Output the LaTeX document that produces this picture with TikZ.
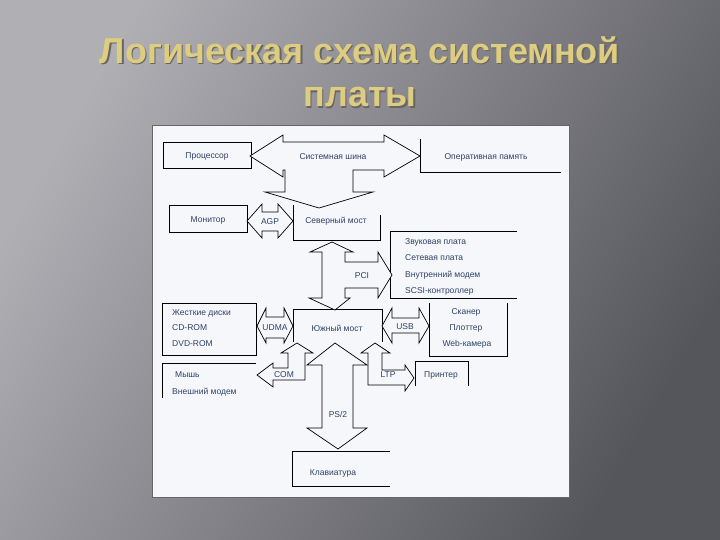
\documentclass[tikz,border=0pt]{standalone}
\usepackage{fontspec}
\setmainfont{Liberation Sans}
\definecolor{txt}{RGB}{45,65,100}
\definecolor{ttl}{RGB}{222,204,128}
\definecolor{panel}{RGB}{246,247,251}
\definecolor{bgl}{RGB}{175,175,180}
\definecolor{bgr}{RGB}{85,85,92}
\begin{document}
\begin{tikzpicture}[x=1pt,y=-1pt,
  lbl/.style={font=\fontsize{8.5}{9}\selectfont, text=txt, inner sep=0pt},
  ttlst/.style={font=\bfseries\fontsize{36}{40}\selectfont, inner sep=0pt},
  ln/.style={draw=black, line width=0.8pt},
  arr/.style={draw=black, line width=0.7pt, fill=panel, line join=miter}]
\useasboundingbox (0,0) rectangle (720,540);
\shade[left color=bgl, right color=bgr, shading angle=60] (0,0) rectangle (720,540);
\node[ttlst, text=black!60] at (361.5,51.5) {Логическая схема системной};
\node[ttlst, text=black!60] at (361.5,98.5) {платы};
\node[ttlst, text=ttl] (t1) at (360,50) {Логическая схема системной};
\node[ttlst, text=ttl] (t2) at (360,97) {платы};
\fill[panel, draw=black!60] (152,125) rectangle (569,497);
% boxes
\draw[ln] (163,142) rectangle (251,168);
\node[lbl] (cpu) at (207,156) {Процессор};
\draw[ln] (420,139) -- (420,172) -- (561,172);
\node[lbl] (ram) at (486,157) {Оперативная память};
\draw[ln] (169,205) rectangle (247,232);
\node[lbl] (mon) at (208,220) {Монитор};
\draw[ln] (293,205) -- (293,240) -- (380,240) -- (380,215);
\node[lbl] (nb) at (336,221) {Северный мост};
\draw[ln] (517,231) -- (390,231) -- (390,298) -- (517,298);
\node[lbl,anchor=west] (p1) at (405,242) {Звуковая плата};
\node[lbl,anchor=west] (p2) at (405,258) {Сетевая плата};
\node[lbl,anchor=west] (p3) at (405,275) {Внутренний модем};
\node[lbl,anchor=west] (p4) at (405,291) {SCSI-контроллер};
\draw[ln] (162,303) rectangle (256,355);
\node[lbl,anchor=west] (h1) at (172,313) {Жесткие диски};
\node[lbl,anchor=west] (h2) at (172,328) {CD-ROM};
\node[lbl,anchor=west] (h3) at (172,344) {DVD-ROM};
\draw[ln] (293,342) -- (293,309) -- (382,309) -- (382,342);
\node[lbl] (sb) at (337,328) {Южный мост};
\draw[ln] (429,303) -- (429,356) -- (507,356) -- (507,303);
\node[lbl] (s1) at (466,312) {Сканер};
\node[lbl] (s2) at (466,328) {Плоттер};
\node[lbl] (s3) at (467,344) {Web-камера};
\draw[ln] (162,398) -- (162,363) -- (256,363);
\node[lbl,anchor=west] (m1) at (175,375) {Мышь};
\node[lbl,anchor=west] (m2) at (172,392) {Внешний модем};
\draw[ln] (415,386) -- (415,361) -- (468,361) -- (468,386);
\node[lbl] (pr) at (441,375) {Принтер};
\draw[ln] (390,451) -- (292,451) -- (292,486) -- (390,486);
\node[lbl] (kb) at (333,473) {Клавиатура};
% block arrows
\draw[arr] (250,156) -- (283,135) -- (283,142) -- (384,142) -- (384,135) -- (420,156) -- (384,177) -- (384,170) -- (353,170) -- (353,192) -- (373,192) -- (319,208) -- (265,192) -- (285,192) -- (285,170) -- (283,170) -- (283,177) -- cycle;
\node[lbl] (sys) at (333,157) {Системная шина};
\draw[arr] (247,221) -- (262,204) -- (262,212) -- (278,212) -- (278,204) -- (293,221) -- (278,238) -- (278,231) -- (262,231) -- (262,238) -- cycle;
\node[lbl] (agp) at (270,222) {AGP};
\draw[arr] (332,242) -- (353,252) -- (345,252) -- (345,262) -- (378,262) -- (378,252) -- (392,275) -- (378,298) -- (378,288) -- (345,288) -- (345,298) -- (350,298) -- (335,310) -- (309,298) -- (322,298) -- (322,252) -- (310,252) -- cycle;
\node[lbl] (pci) at (362,276) {PCI};
\draw[arr] (257,326) -- (266,308) -- (266,317) -- (284,317) -- (284,308) -- (293,326) -- (284,343) -- (284,338) -- (266,338) -- (266,343) -- cycle;
\node[lbl] (udma) at (275,328) {UDMA};
\draw[arr] (382,326) -- (392,308) -- (392,318) -- (419,318) -- (419,308) -- (429,326) -- (419,343) -- (419,333) -- (392,333) -- (392,343) -- cycle;
\node[lbl] (usb) at (405,327) {USB};
\draw[arr] (257,375) -- (273,363) -- (273,368) -- (288,368) -- (288,353) -- (281,353) -- (297,343) -- (313,353) -- (305,353) -- (305,380) -- (273,380) -- (273,387) -- cycle;
\node[lbl] (com) at (284,375) {COM};
\draw[arr] (375,343) -- (390,353) -- (382,353) -- (382,370) -- (405,370) -- (405,365) -- (414,378) -- (405,391) -- (405,385) -- (368,385) -- (368,353) -- (361,353) -- cycle;
\node[lbl] (ltp) at (388,375) {LTP};
\draw[arr] (335,343) -- (367,365) -- (353,365) -- (353,428) -- (367,428) -- (338,449) -- (307,428) -- (322,428) -- (322,365) -- (307,365) -- cycle;
\node[lbl] (ps2) at (338,414) {PS/2};
\end{tikzpicture}
\end{document}
